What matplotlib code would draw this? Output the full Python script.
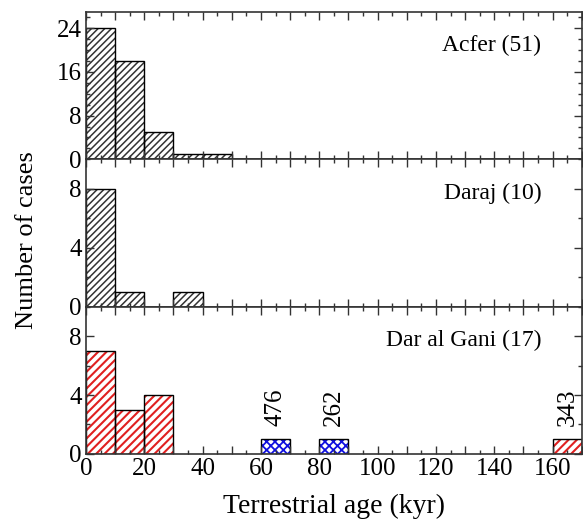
import matplotlib
matplotlib.use("Agg")
import matplotlib.pyplot as plt
from matplotlib.ticker import MultipleLocator, FuncFormatter

# histogram data (bin left edges in kyr, counts)
acfer_bins = [0, 10, 20, 30, 40]
acfer_counts = [24, 18, 5, 1, 1]

daraj_bins = [0, 10, 30]
daraj_counts = [8, 1, 1]

dag_red_bins = [0, 10, 20, 160]
dag_red_counts = [7, 3, 4, 1]
dag_blue_bins = [60, 80]
dag_blue_counts = [1, 1]

# labels written above single bars (x position, text)
note_x = [65, 85, 165]
note_text = ["476", "262", "343"]

panel_titles = ["Acfer (51)", "Daraj (10)", "Dar al Gani (17)"]
panel_ylims = [27, 10, 10]
panel_yticks = [[0, 8, 16, 24], [0, 4, 8], [0, 4, 8]]

plt.rcParams['font.family'] = ['Liberation Serif', 'DejaVu Serif']


def hatched_bars(ax, bins, counts, hatch, color, hlw):
    # hatch drawn in colour, outline drawn in black on top
    with plt.rc_context({'hatch.linewidth': hlw}):
        ax.bar(bins, counts, width=10, align='edge', color='white',
               edgecolor=color, hatch=hatch, linewidth=0)
    ax.bar(bins, counts, width=10, align='edge', fill=False,
           edgecolor='black', linewidth=1.0)


fig, axes = plt.subplots(3, 1, figsize=(5.83, 5.2), dpi=100, sharex=True)
fig.subplots_adjust(left=0.1475, right=0.998, top=0.977, bottom=0.127, hspace=0)

hatched_bars(axes[0], acfer_bins, acfer_counts, '/////', '#333333', 1.1)
hatched_bars(axes[1], daraj_bins, daraj_counts, '/////', '#333333', 1.1)
hatched_bars(axes[2], dag_red_bins, dag_red_counts, '////', '#e02020', 1.5)
hatched_bars(axes[2], dag_blue_bins, dag_blue_counts, 'xxxx', '#1010e0', 1.3)

for x, s in zip(note_x, note_text):
    axes[2].text(x, 1.9, s, rotation=90, ha='center', va='bottom', fontsize=18)

for ax, title, ylim, yt in zip(axes, panel_titles, panel_ylims, panel_yticks):
    ax.set_xlim(0, 170)
    ax.set_ylim(0, ylim)
    ax.set_yticks(yt)
    ax.yaxis.set_minor_locator(MultipleLocator(2))
    ax.xaxis.set_major_locator(MultipleLocator(10))
    ax.xaxis.set_minor_locator(MultipleLocator(5))
    ax.tick_params(which='both', direction='in', top=True, right=True,
                   labelsize=18, color='#333333', pad=3)
    ax.tick_params(which='major', length=6, width=1)
    ax.tick_params(which='minor', length=3, width=1)
    for sp in ax.spines.values():
        sp.set_color('#333333')
        sp.set_linewidth(1.2)
    ax.text(0.918, 0.77, title, transform=ax.transAxes, ha='right',
            va='center', fontsize=17)

axes[2].xaxis.set_major_formatter(
    FuncFormatter(lambda v, p: f"{int(v)}" if int(v) % 20 == 0 else ""))

fig.text(0.046, 0.538, "Number of cases", rotation=90, ha='center',
         va='center', fontsize=19)
axes[2].set_xlabel("Terrestrial age (kyr)", fontsize=20, labelpad=10)

fig.savefig("out.png", dpi=100)
